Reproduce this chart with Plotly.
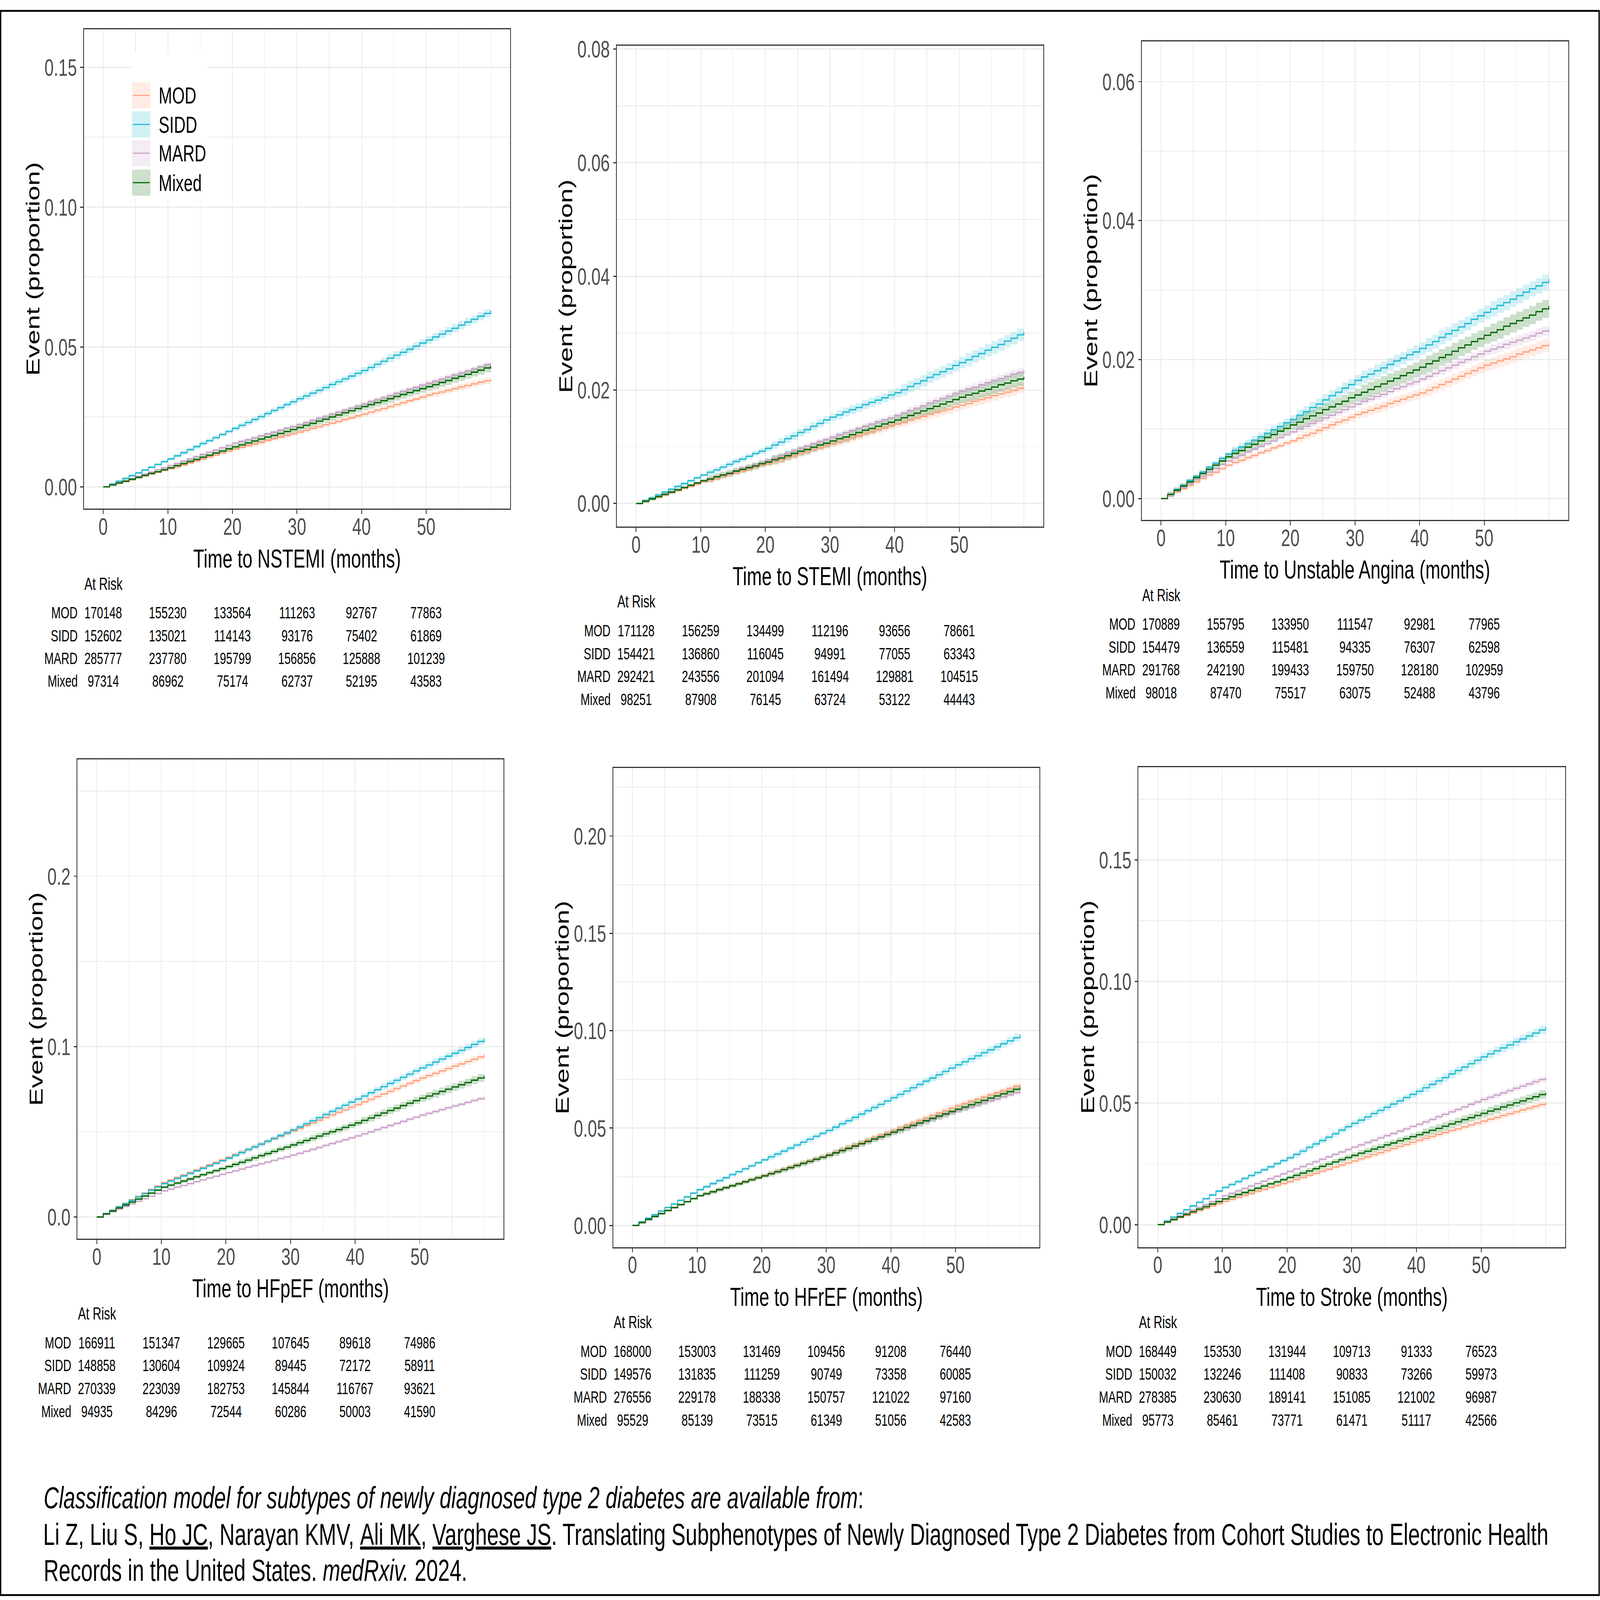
import plotly.graph_objects as go

W, H = 6242, 4314
FONT = "Arial, Liberation Sans, sans-serif"

# ---------------- data ----------------
MONTHS = [0, 1, 2, 3, 4, 5, 6, 7, 8, 9, 10, 11, 12, 13, 14, 15, 16, 17, 18, 19, 20,
          21, 22, 23, 24, 25, 26, 27, 28, 29, 30, 31, 32, 33, 34, 35, 36, 37, 38, 39, 40,
          41, 42, 43, 44, 45, 46, 47, 48, 49, 50, 51, 52, 53, 54, 55, 56, 57, 58, 59, 60]

GROUPS = ["MOD", "SIDD", "MARD", "Mixed"]
LINE_COLORS = ["#FFA07A", "#1DB8D0", "#C8A2C8", "#006400"]
FILL_COLORS = ["rgba(255,160,122,0.2)", "rgba(29,184,208,0.2)",
               "rgba(200,162,200,0.2)", "rgba(0,100,0,0.2)"]

X_TICKS = [0, 10, 20, 30, 40, 50]
X_MINOR = [5, 15, 25, 35, 45, 55, 60]
RISK_TIMES = [0, 10, 20, 30, 40, 50]

# cumulative event proportion, units of 1e-4, monthly steps (month 0..60)
NSTEMI_MOD = [0, 7, 13, 20, 26, 33, 39, 46, 52, 59, 65, 72, 79, 86, 93, 100, 107, 114, 121, 128, 135,
              141, 147, 153, 159, 166, 172, 178, 184, 190, 196, 202, 209, 215, 222, 228, 234, 241, 247, 254, 260,
              267, 274, 280, 287, 294, 301, 308, 314, 321, 328, 334, 339, 345, 351, 357, 362, 368, 374, 379, 385]
NSTEMI_SIDD = [0, 10, 20, 30, 40, 50, 60, 70, 80, 90, 100, 111, 122, 133, 144, 155, 165, 176, 187, 198, 209,
               220, 230, 241, 251, 262, 273, 283, 294, 304, 315, 325, 335, 345, 355, 366, 376, 386, 396, 406, 416,
               427, 438, 449, 460, 471, 481, 492, 503, 514, 525, 536, 546, 557, 567, 578, 589, 599, 610, 620, 631]
NSTEMI_MARD = [0, 8, 15, 23, 30, 38, 46, 53, 61, 68, 76, 84, 92, 100, 108, 116, 124, 132, 140, 148, 156,
               163, 169, 176, 183, 190, 196, 203, 210, 216, 223, 230, 238, 245, 252, 260, 267, 274, 281, 289, 296,
               304, 311, 319, 326, 334, 341, 349, 356, 364, 371, 378, 385, 393, 400, 407, 414, 421, 429, 436, 443]
NSTEMI_MIXED = [0, 7, 14, 20, 27, 34, 41, 48, 54, 61, 68, 76, 83, 91, 98, 106, 113, 121, 128, 136, 143,
                150, 157, 164, 171, 178, 184, 191, 198, 205, 212, 220, 227, 235, 242, 250, 257, 265, 272, 280, 287,
                294, 301, 308, 315, 323, 330, 337, 344, 351, 358, 365, 373, 380, 388, 395, 402, 410, 417, 425, 432]

STEMI_MOD = [0, 4, 8, 11, 15, 19, 23, 27, 30, 34, 38, 41, 44, 48, 51, 54, 57, 60, 64, 67, 70,
             74, 77, 81, 84, 88, 91, 95, 98, 102, 105, 109, 112, 116, 119, 123, 126, 130, 133, 137, 140,
             143, 147, 150, 153, 157, 160, 163, 166, 170, 173, 176, 180, 183, 186, 190, 193, 196, 199, 203, 206]
STEMI_SIDD = [0, 5, 10, 15, 20, 25, 30, 35, 40, 45, 50, 55, 59, 64, 69, 74, 78, 83, 88, 92, 97,
              103, 108, 114, 119, 125, 130, 136, 141, 147, 152, 156, 161, 165, 169, 174, 178, 182, 186, 191, 195,
              200, 206, 211, 216, 222, 227, 232, 237, 243, 248, 253, 259, 264, 270, 275, 280, 286, 291, 297, 302]
STEMI_MARD = [0, 4, 8, 12, 16, 20, 24, 28, 32, 36, 40, 44, 47, 51, 54, 58, 62, 65, 69, 72, 76,
              80, 84, 88, 92, 97, 101, 105, 109, 113, 117, 121, 125, 128, 132, 136, 140, 144, 147, 151, 155,
              159, 164, 168, 172, 177, 181, 185, 189, 194, 198, 202, 205, 209, 213, 217, 220, 224, 228, 231, 235]
STEMI_MIXED = [0, 4, 8, 12, 16, 20, 24, 28, 32, 36, 40, 43, 47, 50, 53, 57, 60, 63, 66, 70, 73,
               77, 80, 84, 88, 92, 95, 99, 103, 106, 110, 114, 117, 121, 125, 129, 132, 136, 140, 143, 147,
               151, 155, 159, 163, 167, 171, 175, 179, 183, 187, 191, 194, 198, 201, 205, 209, 212, 216, 219, 223]

UA_MOD = [0, 5, 10, 14, 19, 24, 29, 34, 38, 43, 48, 52, 55, 59, 62, 66, 69, 73, 76, 80, 83,
          87, 91, 94, 98, 102, 106, 110, 113, 117, 121, 124, 127, 130, 133, 137, 140, 143, 146, 149, 152,
          156, 160, 164, 168, 172, 176, 180, 184, 188, 192, 195, 198, 201, 204, 208, 211, 214, 217, 220, 223]
UA_SIDD = [0, 6, 13, 19, 26, 32, 38, 45, 51, 58, 64, 69, 74, 79, 84, 89, 94, 99, 104, 109, 114,
           120, 125, 131, 136, 142, 148, 153, 159, 164, 170, 175, 179, 184, 188, 193, 198, 202, 207, 211, 216,
           221, 226, 232, 237, 242, 247, 252, 258, 263, 268, 273, 278, 282, 287, 292, 297, 302, 306, 311, 316]
UA_MARD = [0, 5, 11, 16, 22, 27, 32, 38, 43, 49, 54, 58, 62, 67, 71, 75, 79, 83, 88, 92, 96,
           100, 104, 108, 112, 116, 120, 124, 128, 132, 136, 140, 143, 147, 150, 154, 158, 161, 165, 168, 172,
           176, 180, 184, 188, 192, 196, 200, 204, 208, 212, 215, 218, 222, 225, 228, 231, 234, 238, 241, 244]
UA_MIXED = [0, 6, 12, 18, 24, 30, 36, 42, 48, 54, 60, 65, 69, 74, 78, 83, 88, 92, 97, 101, 106,
            110, 115, 119, 123, 128, 132, 136, 140, 145, 149, 153, 157, 161, 165, 169, 173, 177, 181, 185, 189,
            194, 198, 203, 207, 212, 217, 221, 226, 230, 235, 239, 243, 248, 252, 256, 260, 264, 269, 273, 277]

HFPEF_MOD = [0, 20, 40, 61, 81, 101, 121, 141, 162, 182, 202, 217, 232, 246, 261, 276, 291, 306, 320, 335, 350,
             366, 381, 397, 412, 428, 444, 459, 475, 490, 506, 521, 537, 552, 568, 583, 598, 614, 629, 645, 660,
             676, 691, 707, 722, 738, 754, 769, 785, 800, 816, 830, 843, 857, 871, 885, 898, 912, 926, 939, 953]
HFPEF_SIDD = [0, 20, 39, 59, 78, 98, 118, 137, 157, 176, 196, 211, 226, 241, 256, 271, 285, 300, 315, 330, 345,
              362, 378, 395, 411, 428, 445, 461, 478, 494, 511, 529, 547, 565, 583, 602, 620, 638, 656, 674, 692,
              710, 729, 747, 765, 784, 802, 820, 838, 857, 875, 892, 909, 927, 944, 961, 978, 995, 1013, 1030, 1047]
HFPEF_MARD = [0, 15, 31, 46, 61, 77, 92, 107, 122, 138, 153, 164, 175, 185, 196, 207, 218, 229, 239, 250, 261,
              271, 281, 292, 302, 312, 322, 332, 343, 353, 363, 374, 386, 397, 408, 420, 431, 442, 453, 465, 476,
              488, 500, 513, 525, 537, 549, 561, 574, 586, 598, 609, 619, 630, 641, 652, 662, 673, 684, 694, 705]
HFPEF_MIXED = [0, 18, 35, 53, 70, 88, 105, 123, 140, 158, 175, 187, 199, 211, 223, 236, 248, 260, 272, 284, 296,
               309, 321, 334, 347, 360, 372, 385, 398, 410, 423, 436, 449, 462, 475, 488, 500, 513, 526, 539, 552,
               567, 581, 596, 610, 625, 639, 654, 668, 683, 697, 710, 723, 737, 750, 763, 776, 789, 803, 816, 829]

HFREF_MOD = [0, 15, 31, 46, 61, 77, 92, 107, 122, 138, 153, 163, 174, 184, 195, 205, 215, 226, 236, 247, 257,
             268, 278, 289, 300, 311, 321, 332, 343, 353, 364, 376, 389, 401, 414, 426, 438, 451, 463, 476, 488,
             501, 514, 526, 539, 552, 565, 578, 590, 603, 616, 627, 638, 649, 660, 671, 682, 693, 704, 715, 726]
HFREF_SIDD = [0, 18, 37, 55, 74, 92, 110, 129, 147, 166, 184, 199, 215, 230, 245, 261, 276, 291, 306, 322, 337,
              352, 367, 382, 397, 413, 428, 443, 458, 473, 488, 505, 522, 538, 555, 572, 589, 606, 622, 639, 656,
              673, 690, 707, 724, 741, 757, 774, 791, 808, 825, 840, 856, 871, 887, 902, 917, 933, 948, 964, 979]
HFREF_MARD = [0, 15, 30, 46, 61, 76, 91, 106, 122, 137, 152, 162, 172, 183, 193, 203, 213, 223, 234, 244, 254,
              265, 275, 286, 296, 307, 317, 328, 338, 349, 359, 371, 382, 394, 406, 418, 429, 441, 453, 464, 476,
              487, 499, 510, 522, 533, 544, 556, 567, 579, 590, 600, 610, 620, 630, 641, 651, 661, 671, 681, 691]
HFREF_MIXED = [0, 15, 31, 46, 61, 77, 92, 107, 122, 138, 153, 163, 173, 184, 194, 204, 214, 224, 235, 245, 255,
               266, 276, 287, 297, 308, 319, 329, 340, 350, 361, 373, 385, 396, 408, 420, 432, 444, 455, 467, 479,
               491, 503, 514, 526, 538, 550, 562, 573, 585, 597, 608, 620, 631, 642, 654, 665, 676, 687, 699, 710]

STROKE_MOD = [0, 10, 19, 29, 38, 48, 58, 67, 77, 86, 96, 104, 112, 120, 128, 137, 145, 153, 161, 169, 177,
              186, 194, 203, 211, 220, 228, 237, 245, 254, 262, 271, 279, 288, 296, 305, 313, 322, 330, 339, 347,
              355, 363, 371, 379, 387, 394, 402, 410, 418, 426, 434, 441, 449, 456, 464, 472, 479, 487, 494, 502]
STROKE_SIDD = [0, 15, 31, 46, 61, 77, 92, 107, 122, 138, 153, 165, 177, 190, 202, 214, 226, 238, 251, 263, 275,
               289, 303, 318, 332, 346, 360, 374, 389, 403, 417, 430, 443, 457, 470, 483, 496, 509, 523, 536, 549,
               563, 577, 591, 605, 620, 634, 648, 662, 676, 690, 702, 715, 727, 739, 752, 764, 776, 788, 801, 813]
STROKE_MARD = [0, 12, 24, 36, 48, 60, 71, 83, 95, 107, 119, 129, 139, 149, 159, 169, 179, 189, 199, 209, 219,
               229, 239, 249, 259, 269, 279, 289, 299, 309, 319, 328, 338, 347, 357, 366, 375, 385, 394, 404, 413,
               423, 433, 444, 454, 464, 474, 484, 495, 505, 515, 524, 533, 542, 551, 561, 570, 579, 588, 597, 606]
STROKE_MIXED = [0, 11, 21, 32, 42, 53, 64, 74, 85, 95, 106, 115, 124, 132, 141, 150, 159, 168, 176, 185, 194,
                203, 212, 221, 230, 240, 249, 258, 267, 276, 285, 294, 302, 311, 319, 328, 336, 345, 353, 362, 370,
                379, 388, 396, 405, 414, 423, 432, 440, 449, 458, 467, 475, 484, 492, 501, 509, 518, 526, 535, 543]

# 95% CI half-width (units of 1e-4) for months 1-10, 11-20, ..., 51-60
NSTEMI_MOD_CI = [3, 6, 8, 9, 10, 12]
NSTEMI_SIDD_CI = [5, 8, 10, 12, 14, 15]
NSTEMI_MARD_CI = [3, 5, 6, 8, 9, 10]
NSTEMI_MIXED_CI = [5, 8, 11, 13, 15, 16]
STEMI_MOD_CI = [3, 4, 6, 7, 8, 9]
STEMI_SIDD_CI = [3, 5, 7, 8, 10, 11]
STEMI_MARD_CI = [2, 3, 5, 5, 6, 7]
STEMI_MIXED_CI = [3, 6, 8, 9, 10, 12]
UA_MOD_CI = [3, 4, 6, 7, 8, 9]
UA_SIDD_CI = [3, 6, 8, 9, 10, 11]
UA_MARD_CI = [2, 3, 5, 5, 6, 7]
UA_MIXED_CI = [4, 7, 9, 11, 12, 13]
HFPEF_MOD_CI = [6, 10, 12, 14, 17, 18]
HFPEF_SIDD_CI = [6, 10, 14, 16, 18, 20]
HFPEF_MARD_CI = [4, 6, 8, 10, 11, 12]
HFPEF_MIXED_CI = [7, 12, 16, 18, 21, 23]
HFREF_MOD_CI = [5, 8, 11, 13, 15, 16]
HFREF_SIDD_CI = [6, 10, 14, 16, 18, 20]
HFREF_MARD_CI = [4, 6, 8, 10, 11, 12]
HFREF_MIXED_CI = [6, 11, 14, 17, 19, 21]
STROKE_MOD_CI = [4, 7, 9, 11, 12, 13]
STROKE_SIDD_CI = [6, 9, 12, 14, 17, 18]
STROKE_MARD_CI = [3, 6, 8, 9, 10, 12]
STROKE_MIXED_CI = [6, 9, 12, 14, 17, 18]

# number at risk (MOD, SIDD, MARD, Mixed) at months 0,10,...,50
NSTEMI_RISK = [[170148, 155230, 133564, 111263, 92767, 77863],
               [152602, 135021, 114143, 93176, 75402, 61869],
               [285777, 237780, 195799, 156856, 125888, 101239],
               [97314, 86962, 75174, 62737, 52195, 43583]]
STEMI_RISK = [[171128, 156259, 134499, 112196, 93656, 78661],
              [154421, 136860, 116045, 94991, 77055, 63343],
              [292421, 243556, 201094, 161494, 129881, 104515],
              [98251, 87908, 76145, 63724, 53122, 44443]]
UA_RISK = [[170889, 155795, 133950, 111547, 92981, 77965],
           [154479, 136559, 115481, 94335, 76307, 62598],
           [291768, 242190, 199433, 159750, 128180, 102959],
           [98018, 87470, 75517, 63075, 52488, 43796]]
HFPEF_RISK = [[166911, 151347, 129665, 107645, 89618, 74986],
              [148858, 130604, 109924, 89445, 72172, 58911],
              [270339, 223039, 182753, 145844, 116767, 93621],
              [94935, 84296, 72544, 60286, 50003, 41590]]
HFREF_RISK = [[168000, 153003, 131469, 109456, 91208, 76440],
              [149576, 131835, 111259, 90749, 73358, 60085],
              [276556, 229178, 188338, 150757, 121022, 97160],
              [95529, 85139, 73515, 61349, 51056, 42583]]
STROKE_RISK = [[168449, 153530, 131944, 109713, 91333, 76523],
               [150032, 132246, 111408, 90833, 73266, 59973],
               [278385, 230630, 189141, 151085, 121002, 96987],
               [95773, 85461, 73771, 61471, 51117, 42566]]

X_TITLES = ["Time to NSTEMI (months)", "Time to STEMI (months)", "Time to Unstable Angina (months)",
            "Time to HFpEF (months)", "Time to HFrEF (months)", "Time to Stroke (months)"]
Y_TITLE = "Event (proportion)"

EST = [[NSTEMI_MOD, NSTEMI_SIDD, NSTEMI_MARD, NSTEMI_MIXED],
       [STEMI_MOD, STEMI_SIDD, STEMI_MARD, STEMI_MIXED],
       [UA_MOD, UA_SIDD, UA_MARD, UA_MIXED],
       [HFPEF_MOD, HFPEF_SIDD, HFPEF_MARD, HFPEF_MIXED],
       [HFREF_MOD, HFREF_SIDD, HFREF_MARD, HFREF_MIXED],
       [STROKE_MOD, STROKE_SIDD, STROKE_MARD, STROKE_MIXED]]
CI = [[NSTEMI_MOD_CI, NSTEMI_SIDD_CI, NSTEMI_MARD_CI, NSTEMI_MIXED_CI],
      [STEMI_MOD_CI, STEMI_SIDD_CI, STEMI_MARD_CI, STEMI_MIXED_CI],
      [UA_MOD_CI, UA_SIDD_CI, UA_MARD_CI, UA_MIXED_CI],
      [HFPEF_MOD_CI, HFPEF_SIDD_CI, HFPEF_MARD_CI, HFPEF_MIXED_CI],
      [HFREF_MOD_CI, HFREF_SIDD_CI, HFREF_MARD_CI, HFREF_MIXED_CI],
      [STROKE_MOD_CI, STROKE_SIDD_CI, STROKE_MARD_CI, STROKE_MIXED_CI]]
RISK = [NSTEMI_RISK, STEMI_RISK, UA_RISK, HFPEF_RISK, HFREF_RISK, STROKE_RISK]

# ---------------- layout (pixel boxes of each panel) ----------------
PANELS = [
    dict(box=(327, 52, 1990, 1353), yrange=[-0.0078, 0.1636], yticks=[0, 0.05, 0.10, 0.15],
         yminor=[0.025, 0.075, 0.125], fmt=".2f", yoff=198),
    dict(box=(2406, 97, 4070, 1402), yrange=[-0.0041, 0.0806], yticks=[0, 0.02, 0.04, 0.06, 0.08],
         yminor=[0.01, 0.03, 0.05, 0.07], fmt=".2f", yoff=198),
    dict(box=(4454, 85, 6118, 1384), yrange=[-0.0031, 0.0658], yticks=[0, 0.02, 0.04, 0.06],
         yminor=[0.01, 0.03, 0.05], fmt=".2f", yoff=199),
    dict(box=(302, 2033, 1965, 3334), yrange=[-0.0128, 0.2686], yticks=[0, 0.1, 0.2],
         yminor=[0.05, 0.15, 0.25], fmt=".1f", yoff=161),
    dict(box=(2392, 2056, 4055, 3357), yrange=[-0.0112, 0.2350], yticks=[0, 0.05, 0.10, 0.15, 0.20],
         yminor=[0.025, 0.075, 0.125, 0.175, 0.225], fmt=".2f", yoff=199),
    dict(box=(4441, 2054, 6106, 3357), yrange=[-0.0093, 0.1882], yticks=[0, 0.05, 0.10, 0.15],
         yminor=[0.025, 0.075, 0.125, 0.175], fmt=".2f", yoff=198),
]
X_RANGE = [-3, 63]

GRID = "#EBEBEB"
AXC = "#333333"


def fx(px):
    return px / W


def fy(py):
    return 1 - py / H


fig = go.Figure()
annotations = []
shapes = []
layout_axes = {}

for pi, p in enumerate(PANELS):
    n = "" if pi == 0 else str(pi + 1)
    xa, ya = "x" + n, "y" + n
    x0, y0, x1, y1 = p["box"]
    ppm = (x1 - x0) / (X_RANGE[1] - X_RANGE[0])   # pixels per month
    zero_px = x0 + (0 - X_RANGE[0]) * ppm
    layout_axes["xaxis" + n] = dict(
        domain=[fx(x0), fx(x1)], anchor=ya, range=X_RANGE,
        tickmode="array", tickvals=X_TICKS, ticktext=[str(v) for v in X_TICKS],
        showgrid=True, gridcolor=GRID, gridwidth=3,
        minor=dict(tickmode="array", tickvals=X_MINOR, showgrid=True, gridcolor=GRID, gridwidth=2, ticks=""),
        showline=True, mirror=True, linecolor=AXC, linewidth=3,
        ticks="outside", ticklen=11, tickwidth=3, tickcolor=AXC, ticklabelstandoff=-22,
        tickfont=dict(size=65, color="#4D4D4D", family=FONT), zeroline=False, fixedrange=True)
    layout_axes["yaxis" + n] = dict(
        domain=[fy(y1), fy(y0)], anchor=xa, range=p["yrange"],
        tickmode="array", tickvals=p["yticks"], tickformat=p["fmt"],
        showgrid=True, gridcolor=GRID, gridwidth=3,
        minor=dict(tickmode="array", tickvals=p["yminor"], showgrid=True, gridcolor=GRID, gridwidth=2, ticks=""),
        showline=True, mirror=True, linecolor=AXC, linewidth=3,
        ticks="outside", ticklen=11, tickwidth=3, tickcolor=AXC,
        tickfont=dict(size=65, color="#4D4D4D", family=FONT), zeroline=False, fixedrange=True)

    # confidence ribbons
    for gi in range(4):
        est = [v / 1e4 for v in EST[pi][gi]]
        ci = CI[pi][gi]
        hw = [0.0] + [ci[(k - 1) // 10] / 1e4 for k in range(1, len(est))]
        lo = [e - h for e, h in zip(est, hw)]
        hi = [e + h for e, h in zip(est, hw)]
        xs = MONTHS[:len(est)]
        fig.add_trace(go.Scatter(x=xs, y=lo, mode="lines", line=dict(width=0, shape="hv"),
                                 xaxis=xa, yaxis=ya, showlegend=False, hoverinfo="skip"))
        fig.add_trace(go.Scatter(x=xs, y=hi, mode="lines", line=dict(width=0, shape="hv"),
                                 fill="tonexty", fillcolor=FILL_COLORS[gi],
                                 xaxis=xa, yaxis=ya, showlegend=False, hoverinfo="skip"))
    # step curves
    for gi in range(4):
        est = [v / 1e4 for v in EST[pi][gi]]
        fig.add_trace(go.Scatter(x=MONTHS[:len(est)], y=est, mode="lines", name=GROUPS[gi],
                                 line=dict(color=LINE_COLORS[gi], width=3.5, shape="hv"),
                                 xaxis=xa, yaxis=ya, showlegend=False))

    # axis titles
    annotations.append(dict(text=X_TITLES[pi], xref="paper", yref="paper",
                            x=fx((x0 + x1) / 2), y=fy(y1 + 135), xanchor="center", yanchor="middle",
                            showarrow=False, font=dict(size=70, color="black", family=FONT)))
    annotations.append(dict(text=Y_TITLE, xref="paper", yref="paper", textangle=-90,
                            x=fx(x0 - p["yoff"]), y=fy((y0 + y1) / 2), xanchor="center", yanchor="middle",
                            showarrow=False, font=dict(size=72, color="black", family=FONT)))

    # at-risk table
    annotations.append(dict(text="At Risk", xref="paper", yref="paper", x=fx(x0), y=fy(y1 + 203),
                            xanchor="left", yanchor="middle", showarrow=False,
                            font=dict(size=47, color="black", family=FONT)))
    for gi, g in enumerate(GROUPS):
        yy = fy(y1 + 282 + 62 * gi)
        annotations.append(dict(text=g, xref="paper", yref="paper", x=fx(zero_px - 98), y=yy,
                                xanchor="right", yanchor="middle", showarrow=False,
                                font=dict(size=44, color="black", family=FONT)))
        for ti, t in enumerate(RISK_TIMES):
            annotations.append(dict(text=str(RISK[pi][gi][ti]), xref=xa, yref="paper", x=t, y=yy,
                                    xanchor="center", yanchor="middle", showarrow=False,
                                    font=dict(size=44, color="black", family=FONT)))

# legend (inside first panel)
shapes.append(dict(type="rect", xref="paper", yref="paper", x0=fx(512), x1=fx(808), y0=fy(509), y1=fy(115),
                   fillcolor="white", line=dict(width=0), layer="above"))
LEG_TOPS = [196, 275, 353, 433]
for gi, g in enumerate(GROUPS):
    t = LEG_TOPS[gi]
    shapes.append(dict(type="rect", xref="paper", yref="paper", x0=fx(515), x1=fx(587),
                       y0=fy(t + 71), y1=fy(t), fillcolor=FILL_COLORS[gi], line=dict(width=0), layer="above"))
    shapes.append(dict(type="line", xref="paper", yref="paper", x0=fx(518), x1=fx(584),
                       y0=fy(t + 35.5), y1=fy(t + 35.5), line=dict(color=LINE_COLORS[gi], width=3), layer="above"))
    annotations.append(dict(text=g, xref="paper", yref="paper", x=fx(617), y=fy(t + 35.5),
                            xanchor="left", yanchor="middle", showarrow=False,
                            font=dict(size=63, color="black", family=FONT)))

# footer citation
FOOTER = [
    "<i>Classification model for subtypes of newly diagnosed type 2 diabetes are available from</i>:",
    "Li Z, Liu S, <u>Ho JC</u>, Narayan KMV, <u>Ali MK</u>, <u>Varghese JS</u>. Translating Subphenotypes of "
    "Newly Diagnosed Type 2 Diabetes from Cohort Studies to Electronic Health",
    "Records in the United States. <i>medRxiv.</i> 2024.",
]
for li, txt in enumerate(FOOTER):
    annotations.append(dict(text=txt, xref="paper", yref="paper", x=fx(168), y=fy(4037 + 98 * li),
                            xanchor="left", yanchor="middle", showarrow=False,
                            font=dict(size=82, color="black", family=FONT)))

# outer frame
shapes.append(dict(type="rect", xref="paper", yref="paper", x0=fx(2.5), x1=fx(6238.5),
                   y0=fy(4300.5), y1=fy(2.5), line=dict(color="black", width=5), layer="above"))

fig.update_layout(
    width=W, height=H, margin=dict(l=0, r=0, t=0, b=0, pad=0),
    paper_bgcolor="white", plot_bgcolor="white", showlegend=False,
    annotations=annotations, shapes=shapes, font=dict(family=FONT),
    **layout_axes)

# fit the fixed-size figure into the actual browser viewport
FIT_JS = """
var gd = document.getElementById('{plot_id}');
var fw = %d, fh = %d;
var vw = window.innerWidth, vh = window.innerHeight;
document.documentElement.style.margin = '0';
document.documentElement.style.padding = '0';
document.documentElement.style.overflow = 'hidden';
document.body.style.margin = '0';
document.body.style.padding = '0';
document.body.style.overflow = 'hidden';
var wrap = gd.parentElement;
wrap.style.width = vw + 'px';
wrap.style.height = vh + 'px';
wrap.style.overflow = 'hidden';
gd.style.position = 'fixed';
gd.style.left = '0px';
gd.style.top = '0px';
gd.style.margin = '0';
var sx = vw / fw, sy = vh / fh;
if (Math.abs(sx - 1) > 0.001 || Math.abs(sy - 1) > 0.001) {
    gd.style.transformOrigin = '0 0';
    gd.style.transform = 'scale(' + sx + ',' + sy + ')';
}
""" % (W, H)

fig.write_html("out.html", post_script=FIT_JS, config={"displayModeBar": False})
